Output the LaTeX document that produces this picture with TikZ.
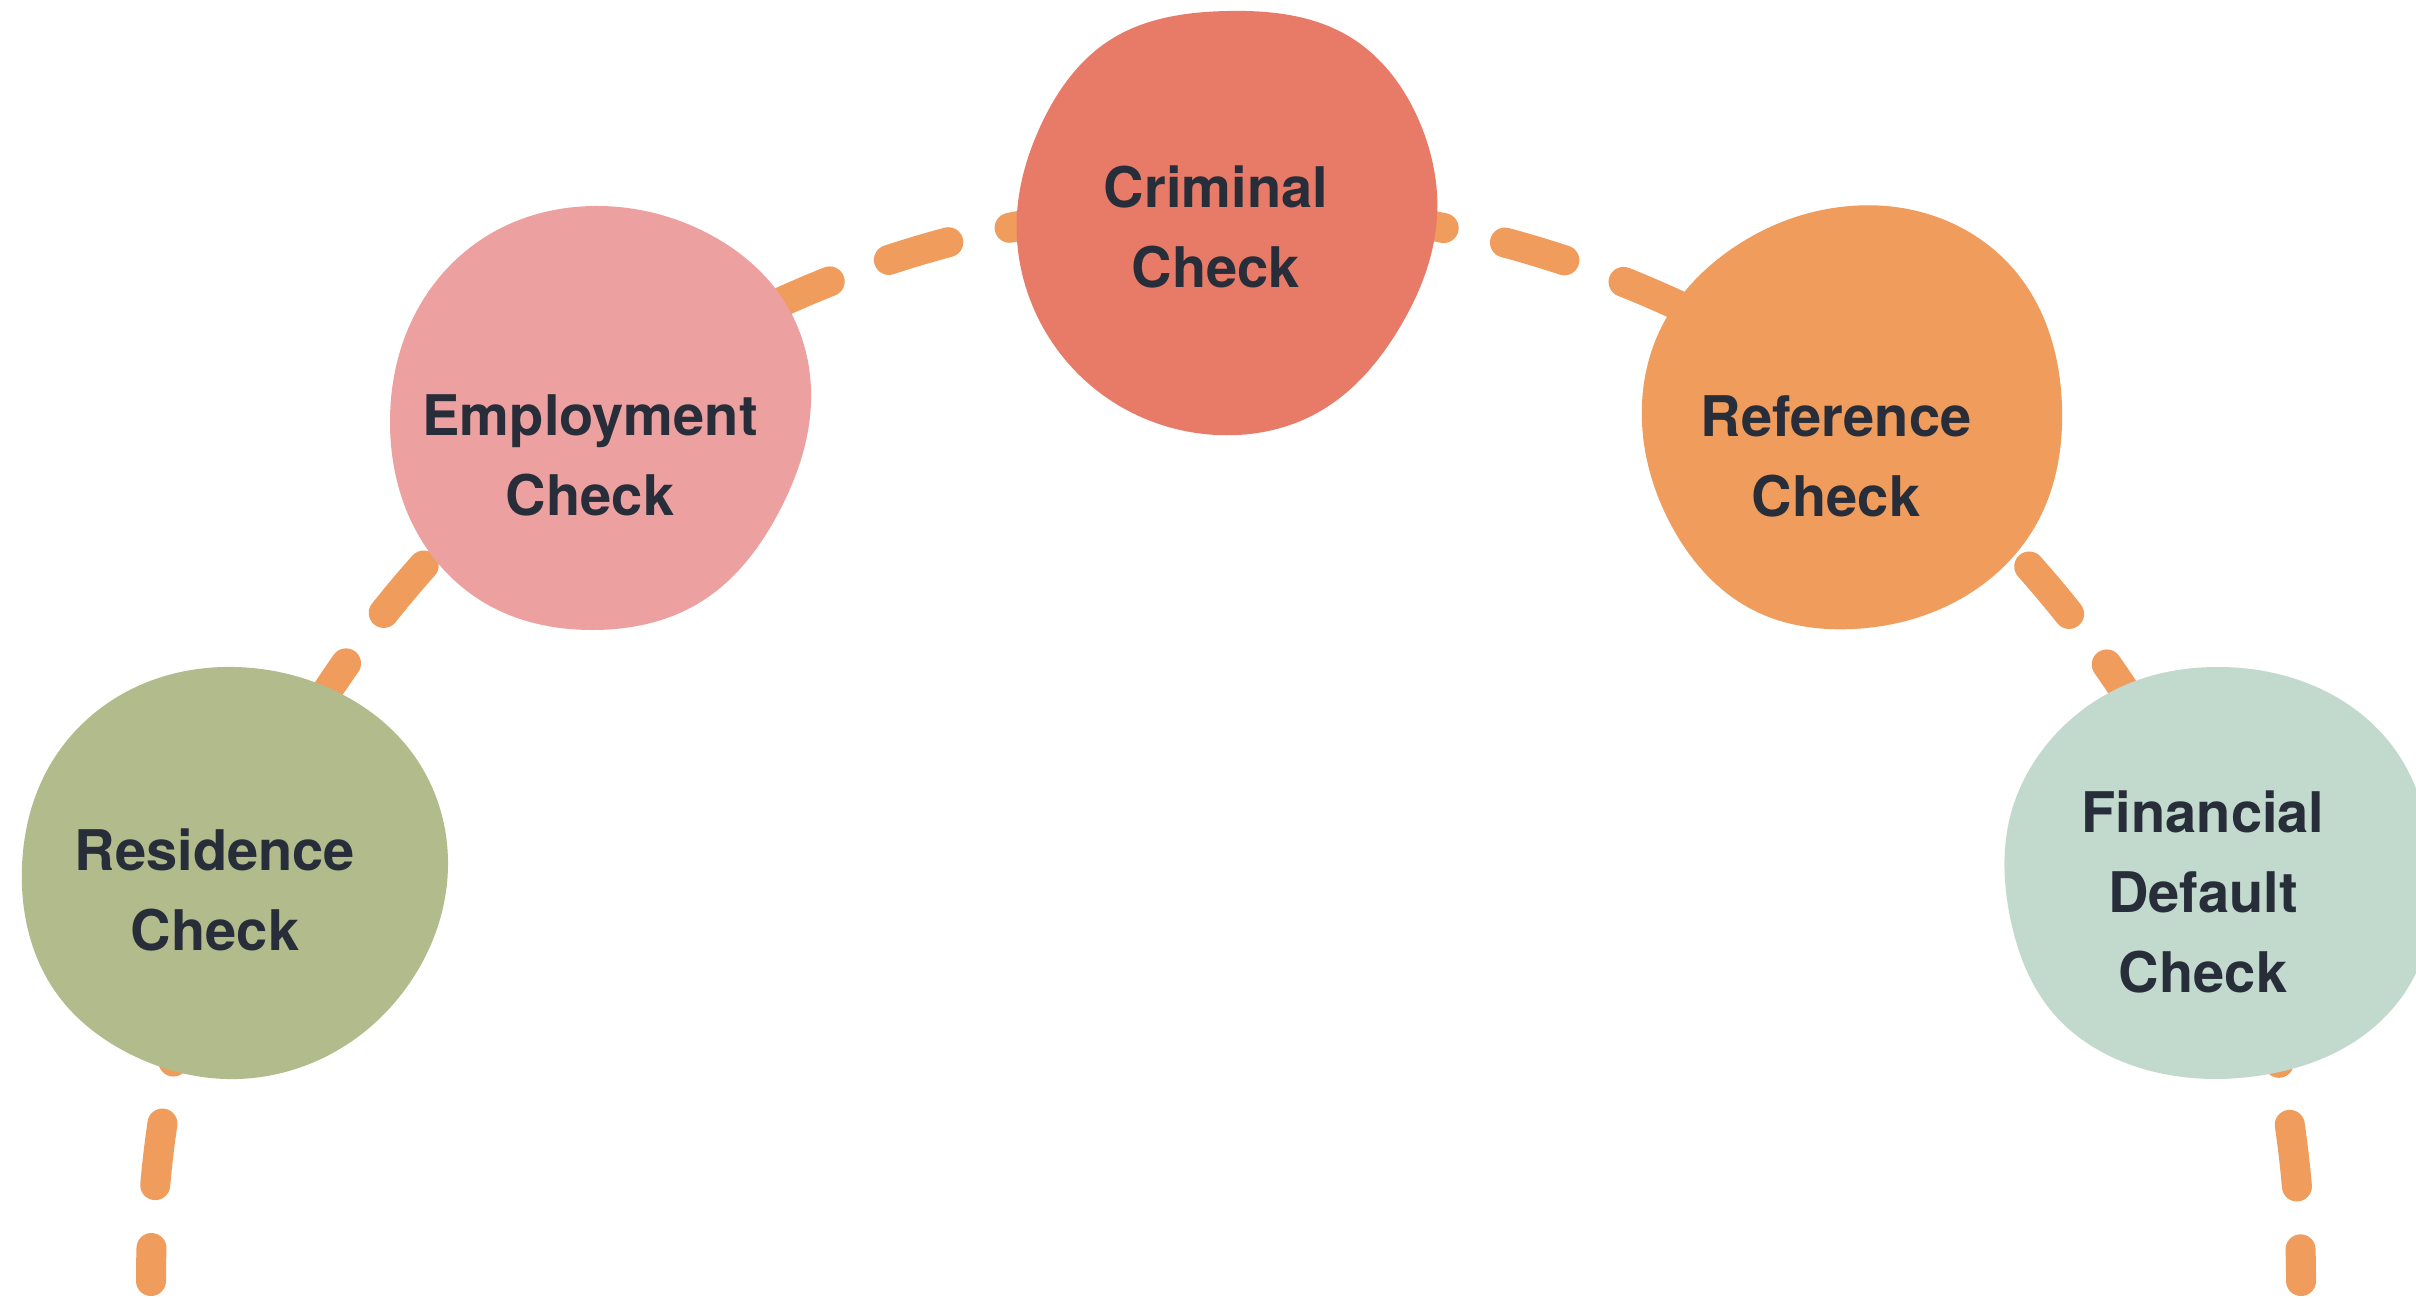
\documentclass[tikz,border=0pt]{standalone}
\usepackage{fontspec}
\setmainfont{TeX Gyre Heros}
\usetikzlibrary{hobby}
\definecolor{trailc}{HTML}{EF9C5C}
\definecolor{crimc}{HTML}{E87B68}
\definecolor{empc}{HTML}{ECA1A0}
\definecolor{refc}{HTML}{EF9C5D}
\definecolor{resc}{HTML}{B2BB8B}
\definecolor{finc}{HTML}{C2D9CD}
\definecolor{txtc}{HTML}{282D3A}
\begin{document}
\begin{tikzpicture}[x=1pt,y=-1pt,
  trail/.style={draw=trailc, line width=30pt, line cap=round,
    dash pattern=on 62pt off 63pt, dash phase=29pt},
  label/.style={font=\fontsize{56}{80}\selectfont\bfseries, text=txtc,
    align=center, inner sep=0pt}]
\useasboundingbox (0,0) rectangle (2416,1298);
\clip (0,0) rectangle (2416,1298);
\fill[white] (0,0) rectangle (2416,1298);

% dashed arc running under all the circles
\coordinate (arcL) at (151,1281);
\coordinate (arcR) at (2301,1281);
\draw[trail] (arcL) arc[start angle=180, end angle=360, radius=1075];

% blobs
\fill[crimc] plot[closed hobby] coordinates {(1227,11) (1110,40) (1040,127) (1017,213) (1033,307) (1110,400) (1217,435) (1317,413) (1400,327) (1437,217) (1420,123) (1350,37)};
\fill[empc] plot[closed hobby] coordinates {(599,206) (490,234) (413,318) (390,424) (413,525) (490,606) (592,630) (699,603) (781,508) (811,403) (786,304) (709,234)};
\fill[refc] plot[closed hobby] coordinates {(1850,206) (1730,250) (1660,330) (1642,423) (1670,523) (1753,610) (1853,629) (1953,603) (2037,523) (2062,407) (2020,277) (1937,217)};
\fill[resc] plot[closed hobby] coordinates {(235,667) (138,686) (50,765) (22,866) (57,994) (132,1055) (226,1079) (329,1055) (413,978) (448,866) (413,754) (329,688)};
\fill[finc] plot[closed hobby] coordinates {(2220,667) (2130,683) (2053,737) (2010,817) (2010,917) (2053,1013) (2147,1070) (2257,1076) (2357,1040) (2416,973) (2432,860) (2400,757) (2323,690)};

% labels
\node[label] (crim) at (1216,227) {Criminal\\Check};
\node[label] (emp) at (590,455) {Employment\\Check};
\node[label] (ref) at (1836,456) {Reference\\Check};
\node[label] (res) at (215,890) {Residence\\Check};
\node[label] (fin) at (2203,892) {Financial\\Default\\Check};
\end{tikzpicture}
\end{document}
